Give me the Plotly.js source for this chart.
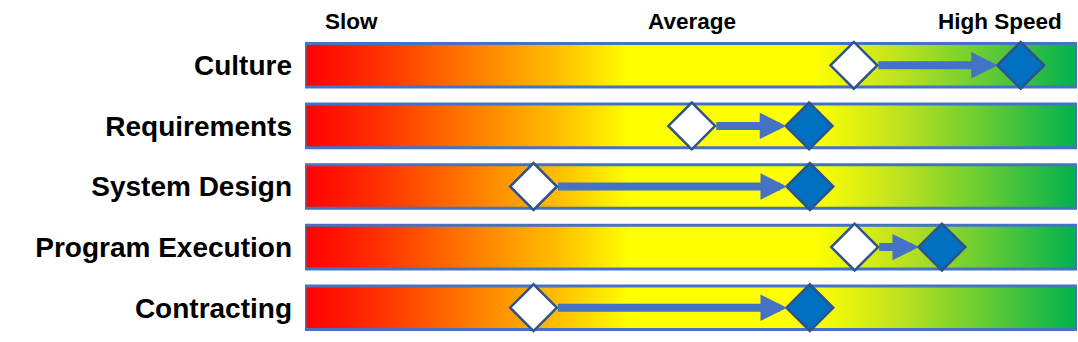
<!DOCTYPE html>
<html><head><meta charset="utf-8">
<script src="https://cdn.plot.ly/plotly-3.0.1.min.js"></script>
<style>html,body{margin:0;padding:0;background:#fff}</style>
</head><body><div id="chart" style="width:1078px;height:342px"></div>
<script>
const categories = ['Culture', 'Requirements', 'System Design', 'Program Execution', 'Contracting'];
const currentSpeed = [71.1, 50.1, 29.6, 71.2, 29.6];
const targetSpeed = [92.7, 65.3, 65.4, 82.5, 65.4];
const scaleLabels = ['Slow', 'Average', 'High Speed'];
const scalePositions = [2.3, 50.1, 90.0];
const scaleAnchors = ['left', 'center', 'center'];

const gradient = [[0, '#FF0000'], [0.1, '#FF3300'], [0.24, '#FF8A00'], [0.33, '#FFC000'], [0.42, '#FFFF00'], [0.66, '#FFFF00'], [0.76, '#C5E41E'], [0.88, '#66CC33'], [1, '#00B050']];
const half = 0.36;
const traces = [];
categories.forEach((c, i) => {
  traces.push({
    type: 'scatter', mode: 'lines',
    x: [0, 100, 100, 0, 0],
    y: [i - half, i - half, i + half, i + half, i - half],
    fill: 'toself',
    fillgradient: {type: 'horizontal', colorscale: gradient, start: 0, stop: 100},
    line: {color: '#4472C4', width: 3},
    hoverinfo: 'skip', showlegend: false
  });
});
traces.push({
  type: 'scatter', mode: 'markers', x: currentSpeed, y: categories.map((c, i) => i),
  marker: {symbol: 'diamond', size: 36, color: '#FFFFFF', line: {color: '#2F528F', width: 2.5}},
  showlegend: false, cliponaxis: false
});
traces.push({
  type: 'scatter', mode: 'markers', x: targetSpeed, y: categories.map((c, i) => i),
  marker: {symbol: 'diamond', size: 36, color: '#0070C0', line: {color: '#2F528F', width: 2.5}},
  showlegend: false, cliponaxis: false
});

const annotations = categories.map((c, i) => ({
  x: targetSpeed[i], y: i, ax: currentSpeed[i], ay: i,
  xref: 'x', yref: 'y', axref: 'x', ayref: 'y',
  text: '', showarrow: true, arrowhead: 2, arrowsize: 0.66, arrowwidth: 8,
  arrowcolor: '#4472C4', standoff: 23, startstandoff: 23
}));
scaleLabels.forEach((t, k) => annotations.push({
  x: scalePositions[k], y: 1.043, xref: 'x', yref: 'paper', xanchor: scaleAnchors[k], yanchor: 'middle',
  text: t, showarrow: false,
  font: {family: 'Liberation Sans, Arial', size: 22.5, weight: 'bold', color: '#000'}
}));

Plotly.newPlot('chart', traces, {
  width: 1078, height: 342,
  margin: {l: 305, r: 1, t: 35, b: 4},
  paper_bgcolor: '#fff', plot_bgcolor: '#fff',
  xaxis: {range: [0, 100], visible: false, fixedrange: true},
  yaxis: {range: [4.5, -0.5], tickvals: categories.map((c, i) => i), ticktext: categories,
    showgrid: false, zeroline: false, showline: false, ticks: '', ticklabelstandoff: 12,
    tickfont: {family: 'Liberation Sans, Arial', size: 28, weight: 'bold', color: '#000'}},
  annotations: annotations
}, {displayModeBar: false, staticPlot: true});
</script></body></html>
